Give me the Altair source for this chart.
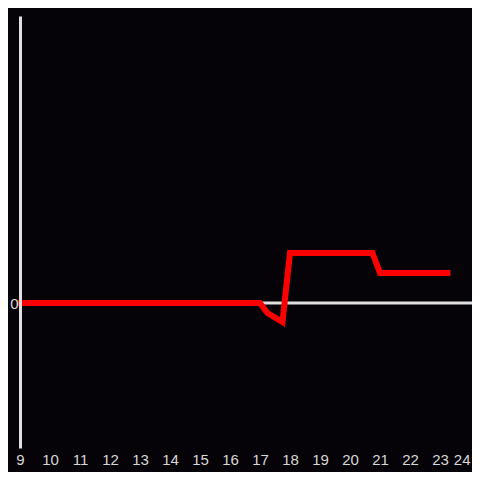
import altair as alt
import pandas as pd

hours = [9, 10, 11, 12, 13, 14, 15, 16, 17, 17.25, 17.75, 18, 20.75, 21, 23.25]
values = [0, 0, 0, 0, 0, 0, 0, 0, 0, -1.0, -1.9, 5, 5, 3, 3]
x_ticks = list(range(9, 25))
y_ticks = [0]

df = pd.DataFrame({"hour": hours, "value": values})
zero_df = pd.DataFrame({"value": [0]})

BG = "#050307"
AX = "#e0e0e0"
LBL = "#d8d8d8"

xs = alt.Scale(domain=[9, 9 + 452 / 30], nice=False, zero=False)
ys = alt.Scale(domain=[-14.5, 28.7], nice=False, zero=False)

y_axis = alt.Axis(
    values=y_ticks, title=None, domain=True, domainColor=AX, domainWidth=3,
    ticks=False, grid=False, labelColor=LBL, labelFontSize=15,
    labelFont="Liberation Sans", labelPadding=2, format="d", zindex=1,
)
x_axis = alt.Axis(
    values=x_ticks, title=None, domain=False, ticks=False, grid=False,
    labelColor=LBL, labelFontSize=15, labelFont="Liberation Sans",
    labelPadding=4, labelFlush=False, labelOverlap=False, format="d",
    labelAlign=alt.ExprRef(expr="datum.value == 24 ? 'right' : 'center'"),
)

rule = alt.Chart(zero_df).mark_rule(color=AX, strokeWidth=3).encode(
    y=alt.Y("value:Q", scale=ys, axis=y_axis)
)

line = alt.Chart(df).mark_line(
    color="#ff0000", strokeWidth=6, strokeCap="square", strokeJoin="miter"
).encode(
    x=alt.X("hour:Q", scale=xs, axis=x_axis),
    y=alt.Y("value:Q", scale=ys, axis=y_axis),
)

chart = alt.layer(rule, line).properties(
    width=452,
    height=432,
    background=BG,
    padding={"left": 12, "top": 8, "right": 0, "bottom": 24},
    autosize="none",
).configure_view(stroke=None)

chart.save("out.html", embed_options={"renderer": "svg", "actions": False})
